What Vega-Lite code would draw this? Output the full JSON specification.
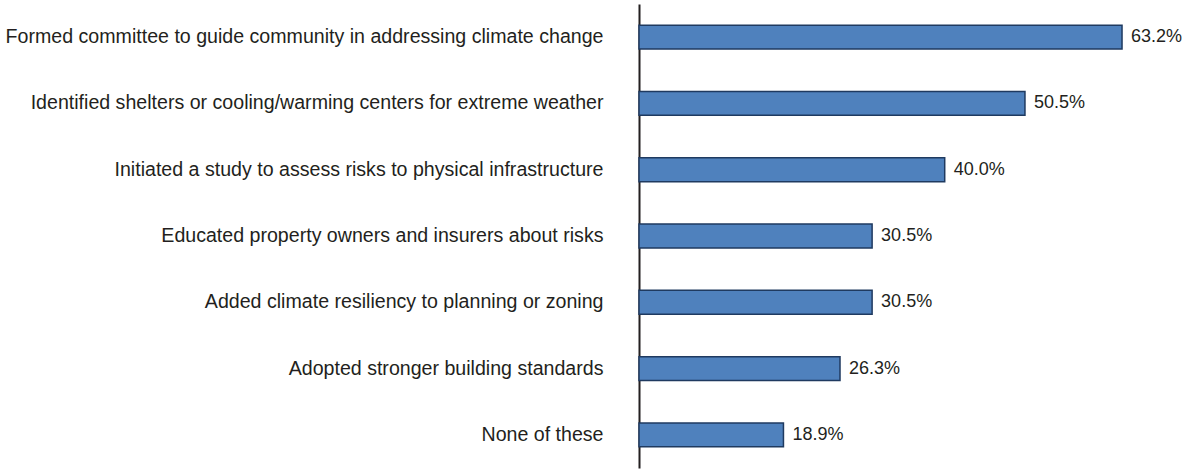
{
  "$schema": "https://vega.github.io/schema/vega-lite/v6.json",
  "autosize": {"type": "none"},
  "padding": {"left": 639, "top": 4, "right": 10, "bottom": 3},
  "width": 535,
  "height": 464,
  "background": "white",
  "config": {"view": {"stroke": null}, "font": "Liberation Sans"},
  "data": {"values": [
    {"action": "Formed committee to guide community in addressing climate change", "share": 0.632},
    {"action": "Identified shelters or cooling/warming centers for extreme weather", "share": 0.505},
    {"action": "Initiated a study to assess risks to physical infrastructure", "share": 0.400},
    {"action": "Educated property owners and insurers about risks", "share": 0.305},
    {"action": "Added climate resiliency to planning or zoning", "share": 0.305},
    {"action": "Adopted stronger building standards", "share": 0.263},
    {"action": "None of these", "share": 0.189}
  ]},
  "encoding": {
    "y": {"field": "action", "type": "nominal", "sort": null,
      "scale": {"paddingInner": 0.64, "paddingOuter": 0.32},
      "axis": {"title": null, "ticks": false, "domainColor": "#231F20", "domainWidth": 2,
        "labelFontSize": 19.6, "labelColor": "#231F20", "labelPadding": 36, "labelLimit": 700, "labelFont": "Liberation Sans"}},
    "x": {"field": "share", "type": "quantitative", "scale": {"domain": [0, 0.70]}, "axis": null}
  },
  "layer": [
    {"mark": {"type": "bar", "fill": "#4F81BD", "stroke": "#1F3A60", "strokeWidth": 1.5}},
    {"mark": {"type": "text", "align": "left", "dx": 9, "fontSize": 18, "color": "#231F20", "font": "Liberation Sans"},
     "encoding": {"text": {"field": "share", "type": "quantitative", "format": ".1%"}}}
  ]
}
